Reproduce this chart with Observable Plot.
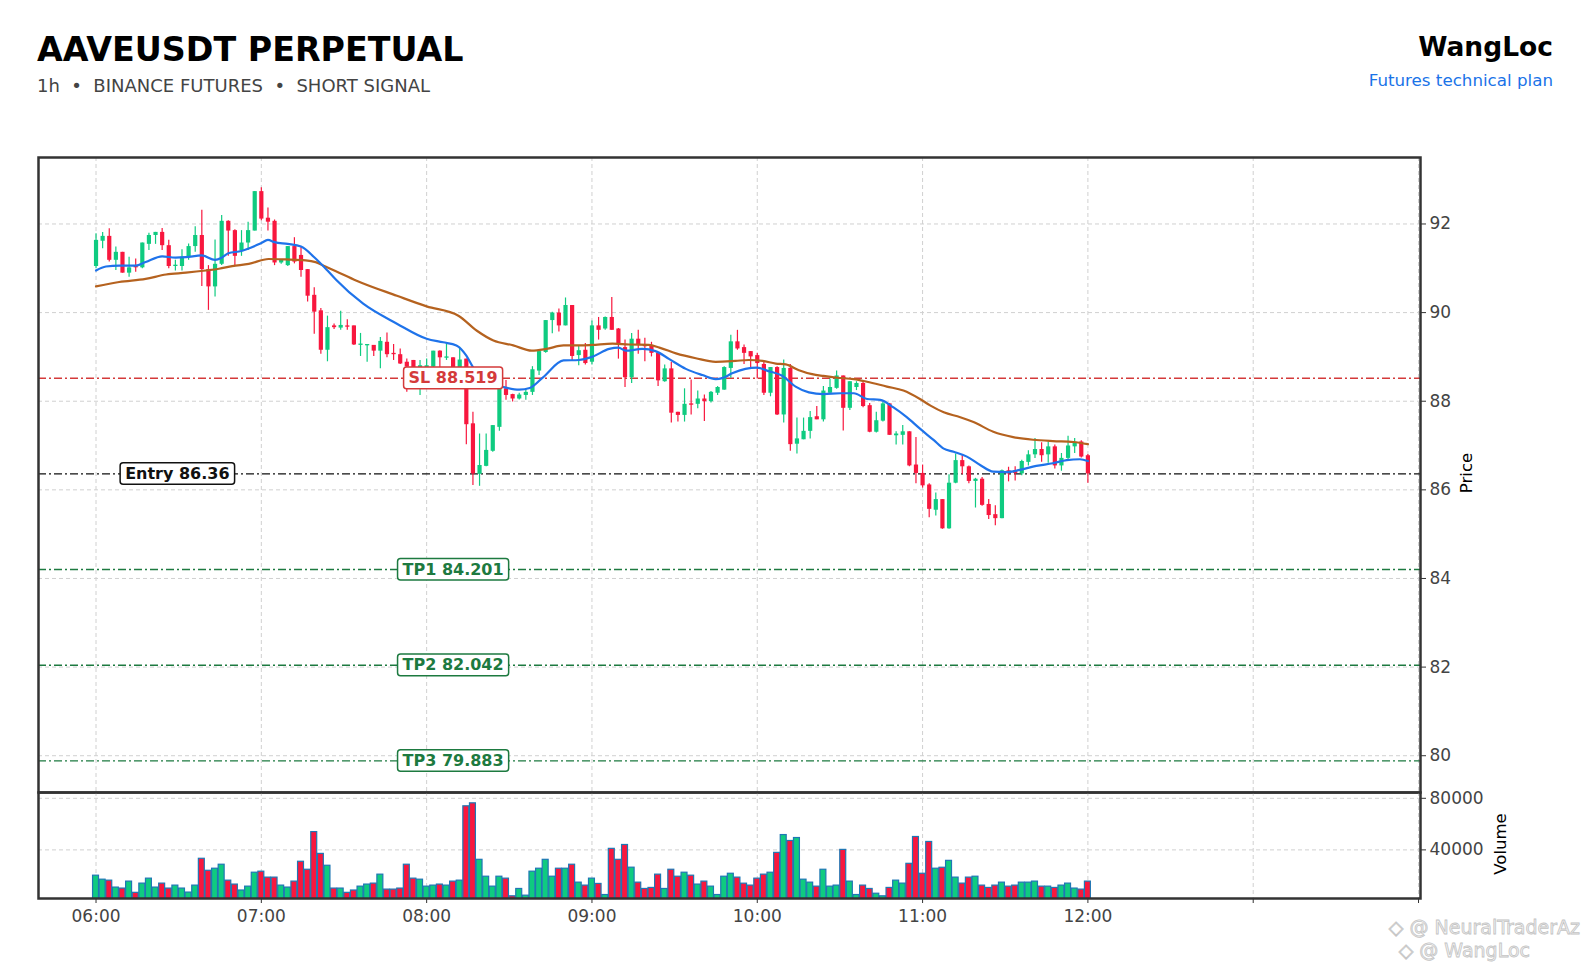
<!DOCTYPE html>
<html>
<head>
<meta charset="utf-8">
<script src="https://cdn.jsdelivr.net/npm/d3@7"></script>
<script src="https://cdn.jsdelivr.net/npm/@observablehq/plot@0.6"></script>
<style>
  html, body { margin: 0; padding: 0; background: #fff; }
  #wrap { position: relative; width: 1590px; height: 962px; overflow: hidden; background: #fff; font-family: "DejaVu Sans", sans-serif; }
  .abs { position: absolute; white-space: pre; line-height: 1; }
  .chart { position: absolute; left: 0; }
  .wm { color: #f4f4f4; -webkit-text-stroke: 0.8px #c4c4c4; font-size: 19px; }
</style>
</head>
<body>
<div id="wrap">
  <div class="abs" style="left:37px; top:33px; font-size:33.3px; font-weight:bold; color:#000;">AAVEUSDT PERPETUAL</div>
  <div class="abs" style="left:37px; top:77px; font-size:18px; color:#444;">1h  •  BINANCE FUTURES  •  SHORT SIGNAL</div>
  <div class="abs" style="right:37px; top:34px; font-size:26.5px; font-weight:bold; color:#000; text-align:right;">WangLoc</div>
  <div class="abs" style="right:37px; top:72px; font-size:16.7px; color:#1a73e8; text-align:right;">Futures technical plan</div>
  <div id="price" class="chart" style="top:140px;"></div>
  <div id="volume" class="chart" style="top:780px;"></div>
  <div class="abs" style="left:1417px; top:463px; width:100px; height:20px; line-height:20px; text-align:center; font-size:16.5px; color:#000; transform:rotate(-90deg);">Price</div>
  <div class="abs" style="left:1451px; top:834px; width:100px; height:20px; line-height:20px; text-align:center; font-size:16.5px; color:#000; transform:rotate(-90deg);">Volume</div>
  <div class="abs wm" style="right:10px; top:918px;">◇ @ NeuralTraderAz</div>
  <div class="abs wm" style="right:60px; top:941px;">◇ @ WangLoc</div>
</div>
<script>
// ---------- data ----------
const timeLabels = ["06:00", "07:00", "08:00", "09:00", "10:00", "11:00", "12:00", "", ""];
const timeTickIdx = [0, 25, 50, 75, 100, 125, 150, 175, 200];
const priceTicks = [80, 82, 84, 86, 88, 90, 92];
const volumeTicks = [40000, 80000];

const opens = [
  91.04, 91.61, 91.72, 91.18, 91.36, 90.89, 91.06, 91.01, 91.54, 91.74,
  91.81, 91.51, 91.04, 91.04, 91.25, 91.49, 91.74, 90.97, 90.58, 91.09,
  92.06, 91.85, 91.39, 91.57, 91.84, 92.73, 92.13, 92.06, 91.12, 91.06,
  91.49, 91.29, 90.97, 90.39, 90.04, 89.15, 89.70, 89.65, 89.70, 89.70,
  89.26, 89.25, 89.26, 89.13, 89.33, 89.08, 89.05, 88.88, 88.92, 88.60,
  88.70, 88.77, 89.13, 88.97, 88.98, 88.73, 88.95, 87.49, 86.35, 86.53,
  86.87, 87.41, 88.28, 88.15, 88.05, 88.13, 88.20, 88.68, 89.10, 89.82,
  89.99, 89.70, 90.16, 89.03, 89.15, 88.88, 89.70, 89.63, 89.89, 89.63,
  89.21, 88.53, 89.40, 89.28, 89.25, 89.08, 88.44, 88.73, 87.75, 87.68,
  87.94, 87.93, 88.05, 87.99, 88.18, 88.25, 88.74, 89.34, 89.21, 89.12,
  89.03, 88.83, 88.18, 88.76, 87.69, 88.74, 87.03, 87.13, 87.32, 87.65,
  87.58, 88.18, 88.29, 88.57, 87.84, 88.31, 88.40, 87.90, 87.30, 87.55,
  87.94, 87.22, 87.23, 87.31, 86.56, 86.37, 86.11, 85.54, 85.78, 85.12,
  86.15, 86.66, 86.52, 86.19, 86.24, 85.67, 85.44, 85.35, 86.43, 86.43,
  86.36, 86.62, 86.79, 86.91, 86.79, 86.97, 86.54, 86.71, 86.97, 87.08,
  86.77
];
const highs = [
  91.78, 91.81, 91.89, 91.48, 91.36, 91.25, 91.21, 91.57, 91.79, 91.81,
  91.90, 91.63, 91.18, 91.42, 91.55, 91.94, 92.31, 91.06, 91.64, 92.19,
  92.07, 91.87, 91.85, 92.04, 92.73, 92.82, 92.36, 92.09, 91.19, 91.49,
  91.69, 91.48, 90.97, 90.56, 90.09, 89.92, 89.74, 90.03, 89.84, 89.70,
  89.53, 89.28, 89.26, 89.44, 89.54, 89.28, 89.18, 88.95, 88.92, 88.92,
  88.95, 89.13, 89.14, 89.29, 88.98, 89.22, 88.95, 87.75, 87.26, 87.26,
  87.45, 88.43, 88.47, 88.16, 88.18, 88.28, 88.78, 89.12, 89.82, 90.01,
  90.08, 90.33, 90.16, 89.26, 89.30, 89.81, 89.89, 89.90, 90.34, 89.64,
  89.38, 89.53, 89.60, 89.42, 89.33, 89.08, 88.82, 88.88, 87.75, 88.28,
  88.48, 88.23, 88.14, 88.22, 88.33, 88.78, 89.49, 89.60, 89.27, 89.12,
  89.08, 88.88, 88.76, 88.78, 88.93, 88.83, 87.62, 87.62, 87.77, 87.88,
  88.33, 88.50, 88.68, 88.57, 88.44, 88.44, 88.44, 87.95, 87.75, 87.98,
  87.95, 87.31, 87.45, 87.31, 87.18, 86.56, 86.14, 85.93, 85.78, 86.34,
  86.81, 86.78, 86.54, 86.26, 86.28, 85.78, 85.64, 86.45, 86.51, 86.52,
  86.67, 86.88, 87.16, 87.06, 87.08, 87.01, 86.82, 87.21, 87.16, 87.11,
  86.80
];
const lows = [
  90.99, 91.44, 91.14, 90.95, 90.89, 90.80, 90.91, 90.99, 91.40, 91.54,
  91.40, 90.99, 90.94, 90.94, 91.18, 91.36, 90.59, 90.05, 90.35, 91.06,
  91.27, 91.06, 91.27, 91.40, 91.84, 92.07, 91.84, 91.06, 91.09, 91.04,
  91.10, 90.80, 90.24, 89.51, 89.06, 88.89, 89.62, 89.60, 89.60, 89.26,
  89.01, 88.88, 89.01, 88.73, 88.98, 88.92, 88.83, 88.20, 88.40, 88.13,
  88.55, 88.75, 88.68, 88.92, 88.69, 88.69, 87.02, 86.10, 86.08, 86.52,
  86.85, 87.32, 88.02, 87.98, 88.03, 88.02, 88.13, 88.58, 89.08, 89.52,
  89.56, 89.70, 88.92, 88.80, 88.82, 88.82, 89.38, 89.60, 89.60, 88.95,
  88.31, 88.40, 89.06, 88.89, 89.00, 88.33, 88.43, 87.51, 87.53, 87.53,
  87.69, 87.83, 87.54, 87.96, 88.13, 88.25, 88.52, 89.15, 88.83, 88.76,
  88.50, 88.13, 88.10, 87.68, 87.51, 86.87, 86.81, 87.13, 87.15, 87.58,
  87.53, 88.16, 88.27, 87.33, 87.79, 88.24, 87.85, 87.29, 87.28, 87.53,
  87.23, 87.01, 87.01, 86.52, 86.14, 86.04, 85.37, 85.41, 85.11, 85.11,
  86.14, 86.34, 86.14, 85.59, 85.63, 85.33, 85.19, 85.35, 86.18, 86.20,
  86.32, 86.54, 86.71, 86.62, 86.60, 86.47, 86.42, 86.65, 86.82, 86.72,
  86.15
];
const closes = [
  91.63, 91.72, 91.18, 91.36, 90.89, 91.01, 91.01, 91.57, 91.74, 91.81,
  91.51, 91.04, 91.07, 91.25, 91.49, 91.74, 90.97, 90.58, 91.09, 92.06,
  91.84, 91.27, 91.57, 91.85, 92.73, 92.11, 92.04, 91.12, 91.19, 91.49,
  91.14, 90.95, 90.37, 90.01, 89.15, 89.66, 89.66, 89.71, 89.67, 89.27,
  89.28, 89.27, 89.13, 89.35, 89.05, 89.05, 88.84, 88.77, 88.73, 88.80,
  88.80, 89.13, 88.98, 88.99, 88.73, 88.93, 87.47, 86.36, 86.55, 86.89,
  87.45, 88.43, 88.13, 88.05, 88.14, 88.20, 88.71, 89.12, 89.82, 89.99,
  89.70, 90.16, 89.01, 89.14, 88.85, 89.70, 89.60, 89.89, 89.60, 89.30,
  88.53, 89.40, 89.28, 89.23, 89.08, 88.46, 88.73, 87.73, 87.68, 87.93,
  87.92, 88.05, 87.99, 88.20, 88.31, 88.76, 89.34, 89.18, 89.08, 89.00,
  88.85, 88.18, 88.76, 87.69, 88.74, 87.02, 87.15, 87.32, 87.63, 87.58,
  88.23, 88.31, 88.57, 87.84, 88.44, 88.40, 87.88, 87.30, 87.56, 87.94,
  87.23, 87.26, 87.31, 86.54, 86.37, 86.09, 85.56, 85.78, 85.12, 86.15,
  86.66, 86.52, 86.19, 86.24, 85.65, 85.42, 85.35, 86.43, 86.36, 86.37,
  86.64, 86.79, 86.91, 86.77, 86.97, 86.54, 86.71, 86.99, 87.06, 86.74,
  86.36
];
const volumes = [
  20000, 16900, 16150, 10770, 10000, 15400, 6700, 13850, 17700, 10770,
  13850, 10000, 12300, 10000, 6900, 12300, 33100, 23800, 25400, 28500,
  16150, 13100, 8500, 11500, 22300, 23100, 18500, 18500, 12300, 10770,
  15400, 30800, 24600, 53800, 36900, 27700, 10000, 10000, 6700, 8500,
  11500, 13100, 13850, 20800, 9200, 9200, 10000, 28500, 17700, 16900,
  11500, 12300, 13100, 12300, 15400, 16150, 73800, 76100, 32300, 19200,
  11500, 19200, 17700, 4000, 9700, 4500, 23100, 25400, 32300, 19200,
  25400, 25400, 28500, 14600, 12300, 17700, 13600, 5000, 40800, 32300,
  43800, 26200, 14600, 9700, 10500, 20800, 9700, 24600, 19200, 22300,
  20000, 13100, 15400, 11500, 5000, 19200, 21500, 18500, 13800, 12300,
  17700, 20800, 22300, 37700, 51500, 46900, 49200, 16900, 14600, 11500,
  24600, 11500, 12300, 40000, 15400, 5000, 12300, 9700, 6000, 4000,
  10500, 16150, 13850, 29200, 50000, 21500, 46150, 25400, 26150, 31500,
  18500, 13850, 18500, 19200, 12300, 10500, 12300, 14600, 11500, 12300,
  14600, 14600, 15400, 11500, 11500, 10500, 12300, 13850, 10000, 9200,
  15400
];

// moving averages (candle position, price)
const maFastIdx = [0, 1.5, 3.5, 6, 7.5, 10, 12, 13.6, 16, 18, 19, 20, 22, 23, 25, 26, 27, 29, 31, 33, 35, 36.3, 40.4, 45.5, 50, 52.5, 54.5, 56, 57, 59, 61.6, 64, 65.6, 67.6, 70.7, 73, 75, 77.6, 79, 80.1, 82.6, 84.6, 86.7, 89.2, 91.7, 93.7, 94.7, 96.2, 98.2, 100, 101.7, 103.7, 105.8, 107.8, 110, 112.6, 114.6, 116.6, 118.6, 120.6, 122.6, 124.6, 126.7, 128.2, 129.7, 131.7, 133.7, 135.7, 137.7, 139.7, 142.2, 144.7, 146.8, 148.8, 150];
const maFastVal = [90.95, 91.04, 91.06, 91.06, 91.14, 91.27, 91.24, 91.25, 91.29, 91.19, 91.24, 91.34, 91.39, 91.44, 91.57, 91.64, 91.59, 91.55, 91.49, 91.25, 90.95, 90.74, 90.20, 89.75, 89.41, 89.33, 89.26, 89.03, 88.77, 88.45, 88.32, 88.26, 88.30, 88.54, 88.92, 88.93, 89.00, 89.18, 89.21, 89.14, 89.18, 89.13, 88.95, 88.73, 88.59, 88.50, 88.52, 88.63, 88.73, 88.76, 88.68, 88.58, 88.33, 88.20, 88.16, 88.18, 88.18, 88.05, 88.03, 87.86, 87.64, 87.38, 87.12, 86.93, 86.86, 86.75, 86.56, 86.41, 86.40, 86.45, 86.54, 86.60, 86.67, 86.69, 86.65];
const maSlowIdx = [0, 3.5, 7.5, 10.6, 13.6, 16.6, 18.6, 20.6, 23.1, 26.1, 28.7, 31.7, 33.2, 34.7, 36.2, 39.4, 45.5, 50, 54.8, 57.6, 60.1, 63.1, 65.9, 68.1, 70.7, 73.2, 75, 78.1, 80.6, 83.6, 85.2, 87.7, 90.7, 93.7, 96.7, 98.7, 100.8, 102.8, 104.3, 106.3, 108.3, 110, 112.1, 114.6, 116.6, 119.6, 122.1, 124.6, 126.2, 128.2, 130.7, 132.7, 135.7, 138.7, 141.7, 144.7, 147.8, 150];
const maSlowVal = [90.59, 90.69, 90.76, 90.86, 90.90, 90.95, 90.99, 91.05, 91.10, 91.21, 91.20, 91.18, 91.14, 91.04, 90.94, 90.72, 90.38, 90.14, 89.93, 89.59, 89.37, 89.26, 89.14, 89.18, 89.26, 89.26, 89.27, 89.30, 89.28, 89.27, 89.21, 89.08, 88.97, 88.89, 88.91, 88.93, 88.91, 88.85, 88.83, 88.70, 88.61, 88.57, 88.53, 88.50, 88.44, 88.33, 88.24, 88.05, 87.90, 87.75, 87.64, 87.53, 87.31, 87.19, 87.13, 87.10, 87.08, 87.03];

const levelNames = ["SL", "Entry", "TP1", "TP2", "TP3"];
const levelPrices = [88.519, 86.36, 84.201, 82.042, 79.883];

// ---------- build ----------
const GREEN = "#0fcb80", RED = "#f8173e";
const BLUE = "#1f73ea", BROWN = "#b5621f";
const levelColor = {SL: "#d43a3a", Entry: "#111111", TP1: "#1d7a40", TP2: "#1d7a40", TP3: "#1d7a40"};

const candles = opens.map((o, i) => ({i, o, h: highs[i], l: lows[i], c: closes[i], v: volumes[i]}));
const fast = maFastIdx.map((x, k) => ({x, y: maFastVal[k]}));
const slow = maSlowIdx.map((x, k) => ({x, y: maSlowVal[k]}));
const levels = levelNames.map((n, k) => ({name: n, price: levelPrices[k], label: `${n} ${levelPrices[k]}`, color: levelColor[n]}));
const col = d => (d.c >= d.o ? GREEN : RED);

const X_DOMAIN = [-8.7, 200.3];
const gridStyle = {stroke: "#d0d0d0", strokeOpacity: 1, strokeWidth: 1, strokeDasharray: "4,3"};
const common = {
  width: 1590, marginLeft: 38, marginRight: 170,
  color: {type: "identity"},
  style: {background: "transparent", overflow: "visible", fontFamily: "DejaVu Sans, sans-serif", fontSize: "17px"}
};

const priceChart = Plot.plot({
  ...common,
  height: 655, marginTop: 17, marginBottom: 3,
  x: {domain: X_DOMAIN, axis: null},
  y: {domain: [79.17, 93.5], axis: null},
  marks: [
    Plot.gridX({ticks: timeTickIdx, ...gridStyle}),
    Plot.gridY({ticks: priceTicks, ...gridStyle}),
    Plot.ruleY(levels, {y: "price", stroke: "color", strokeWidth: 1.4, strokeDasharray: "8,3,2,3"}),
    Plot.ruleX(candles, {x: "i", y1: "l", y2: "h", stroke: col, strokeWidth: 1.2}),
    Plot.ruleX(candles, {x: "i", y1: "o", y2: d => (Math.abs(d.c - d.o) < 0.03 ? d.o + (d.c >= d.o ? 0.03 : -0.03) : d.c), stroke: col, strokeWidth: 4.2}),
    Plot.line(slow, {x: "x", y: "y", stroke: BROWN, strokeWidth: 2.2, curve: "monotone-x"}),
    Plot.line(fast, {x: "x", y: "y", stroke: BLUE, strokeWidth: 2.2, curve: "monotone-x"}),
    Plot.text(levels, {x: d => (d.name === "Entry" ? 12.3 : 54), y: "price", text: "label", fill: "color", fontSize: 16, fontWeight: "bold", className: "lvl"}),
    Plot.axisY({anchor: "right", ticks: priceTicks, tickSize: 5, tickPadding: 4, fontSize: 17, fill: "#444", stroke: "#333", label: null}),
    Plot.frame({stroke: "#333", strokeWidth: 2.5})
  ]
});
document.getElementById("price").appendChild(priceChart);

// boxes behind level labels
priceChart.querySelectorAll("g.lvl text").forEach(t => {
  const b = t.getBBox();
  const r = document.createElementNS("http://www.w3.org/2000/svg", "rect");
  r.setAttribute("x", b.x - 5);
  r.setAttribute("y", b.y - 1.3);
  r.setAttribute("width", b.width + 10);
  r.setAttribute("height", b.height + 2.6);
  r.setAttribute("rx", 3);
  r.setAttribute("fill", "white");
  r.setAttribute("stroke", t.getAttribute("fill") || "#000");
  r.setAttribute("stroke-width", 1.5);
  const tr = t.getAttribute("transform");
  if (tr) r.setAttribute("transform", tr);
  t.parentNode.insertBefore(r, t);
});

const volumeChart = Plot.plot({
  ...common,
  height: 160, marginTop: 12, marginBottom: 42,
  x: {domain: X_DOMAIN, axis: null},
  y: {domain: [2300, 84500], axis: null},
  marks: [
    Plot.gridX({ticks: timeTickIdx, ...gridStyle}),
    Plot.gridY({ticks: volumeTicks, ...gridStyle}),
    Plot.rect(candles, {x1: d => d.i - 0.45, x2: d => d.i + 0.45, y1: d => 0, y2: "v", fill: col, stroke: "#1f77b4", strokeWidth: 1.2, clip: true}),
    Plot.axisY({anchor: "right", ticks: volumeTicks, tickFormat: d => String(d), tickSize: 5, tickPadding: 4, fontSize: 17, fill: "#444", stroke: "#333", label: null}),
    Plot.axisX({anchor: "bottom", ticks: timeTickIdx, tickFormat: d => timeLabels[timeTickIdx.indexOf(d)], tickSize: 5, tickPadding: 6, fontSize: 17, fill: "#444", stroke: "#333", label: null}),
    Plot.frame({stroke: "#333", strokeWidth: 2.5})
  ]
});
document.getElementById("volume").appendChild(volumeChart);
</script>
</body>
</html>
